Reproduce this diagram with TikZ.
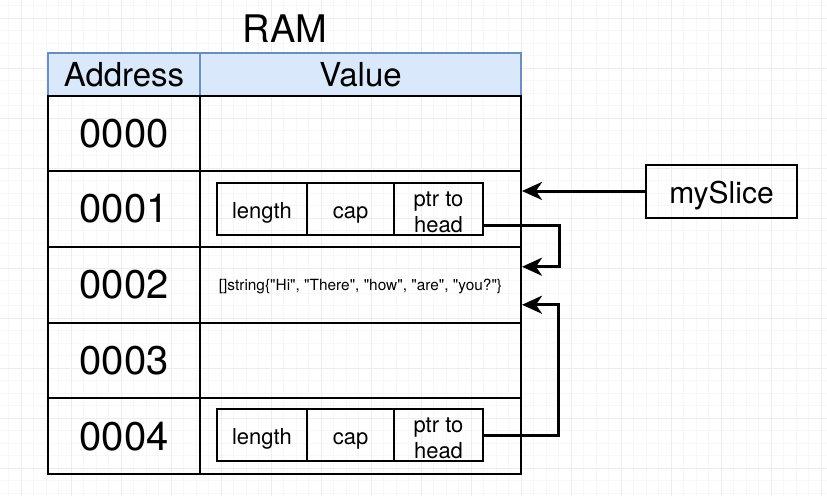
\documentclass[tikz,border=0pt]{standalone}
\usepackage{fontspec}
\setmainfont{TeX Gyre Heros}[Ligatures=TeXOff]
\usetikzlibrary{arrows.meta}

\definecolor{gridmajor}{HTML}{EDEDED}
\definecolor{gridminor}{HTML}{F7F7F7}
\definecolor{headfill}{HTML}{DAE8FC}
\definecolor{headline}{HTML}{6C8EBF}

\tikzset{
  fsz/.style={font=\fontsize{#1}{#1}\selectfont},
  headcell/.style={draw=headline, fill=headfill, line width=1.5pt, inner sep=0pt,
    minimum height=42.5pt, fsz=33},
  addrcell/.style={draw, line width=2pt, inner sep=0pt, minimum width=152pt,
    minimum height=75.7pt, fsz=40},
  valcell/.style={draw, line width=2pt, inner sep=0pt, minimum width=321pt,
    minimum height=75.7pt},
  field/.style={draw, line width=2pt, inner sep=0pt, minimum height=52pt,
    text height=18pt, text depth=0pt, font=\fontsize{22}{26}\selectfont},
  twoline/.style={text height=0pt, text depth=6pt},
  conn/.style={line width=3pt, -{Stealth[length=20pt,width=18pt,inset=6pt]}},
}

\begin{document}
\begin{tikzpicture}[x=1pt,y=-1pt]
\useasboundingbox[fill=white] (0,0) rectangle (827,496);

% background grid
\foreach \k in {0,...,65} \draw[gridminor, line width=0.8pt] ({8.5+12.5*\k},0) -- ++(0,496);
\foreach \k in {0,...,39} \draw[gridminor, line width=0.8pt] (0,{5.5+12.5*\k}) -- ++(827,0);
\foreach \k in {0,...,16} \draw[gridmajor, line width=1pt] ({21+50*\k},0) -- ++(0,496);
\foreach \k in {0,...,9} \draw[gridmajor, line width=1pt] (0,{18+50*\k}) -- ++(827,0);

% title
\node[fsz=38] (ram) at (285,29) {RAM};

% header row
\node[headcell, minimum width=152pt] (hA) at (124,74.25) {Address};
\node[headcell, minimum width=321pt] (hV) at (360.5,74.25) {Value};

% memory rows
\node[addrcell] (a0) at (124,133.35) {0000};
\node[addrcell] (a1) at (124,209.05) {0001};
\node[addrcell] (a2) at (124,284.75) {0002};
\node[addrcell] (a3) at (124,360.45) {0003};
\node[addrcell] (a4) at (124,436.15) {0004};

\node[valcell] (v0) at (360.5,133.35) {};
\node[valcell] (v1) at (360.5,209.05) {};
\node[valcell, fsz=15.4, text height=11pt, text depth=0pt] (v2) at (360.5,284.75)
  {[]string\{"Hi", "There", "how", "are", "you?"\}};
\node[valcell] (v3) at (360.5,360.45) {};
\node[valcell] (v4) at (360.5,436.15) {};

% slice headers
\node[field, minimum width=90pt] (l1) at (262,209) {length};
\node[field, minimum width=87pt] (c1) at (350.5,209) {cap};
\node[field, twoline, minimum width=89pt] (p1) at (438.5,209)
  {\begin{tabular}[t]{@{}c@{}}ptr to\\head\end{tabular}};

\node[field, minimum width=90pt] (l4) at (262,435) {length};
\node[field, minimum width=87pt] (c4) at (350.5,435) {cap};
\node[field, twoline, minimum width=89pt] (p4) at (438.5,435)
  {\begin{tabular}[t]{@{}c@{}}ptr to\\head\end{tabular}};

% variable
\node[draw, line width=2pt, minimum width=151pt, minimum height=53pt, inner sep=0pt,
  fsz=30, text height=25pt, text depth=0pt] (ms) at (721.5,191) {mySlice};

% pointers
\draw[conn] (ms.west) -- (ms.west -| v1.east);
\draw[conn] ([yshift=-16pt]p1.east) -- ++(75,0) |- ([yshift=18pt]v2.east);
\draw[conn] (p4.east) -- ++(74,0) |- ([yshift=-20pt]v2.east);
\end{tikzpicture}
\end{document}
